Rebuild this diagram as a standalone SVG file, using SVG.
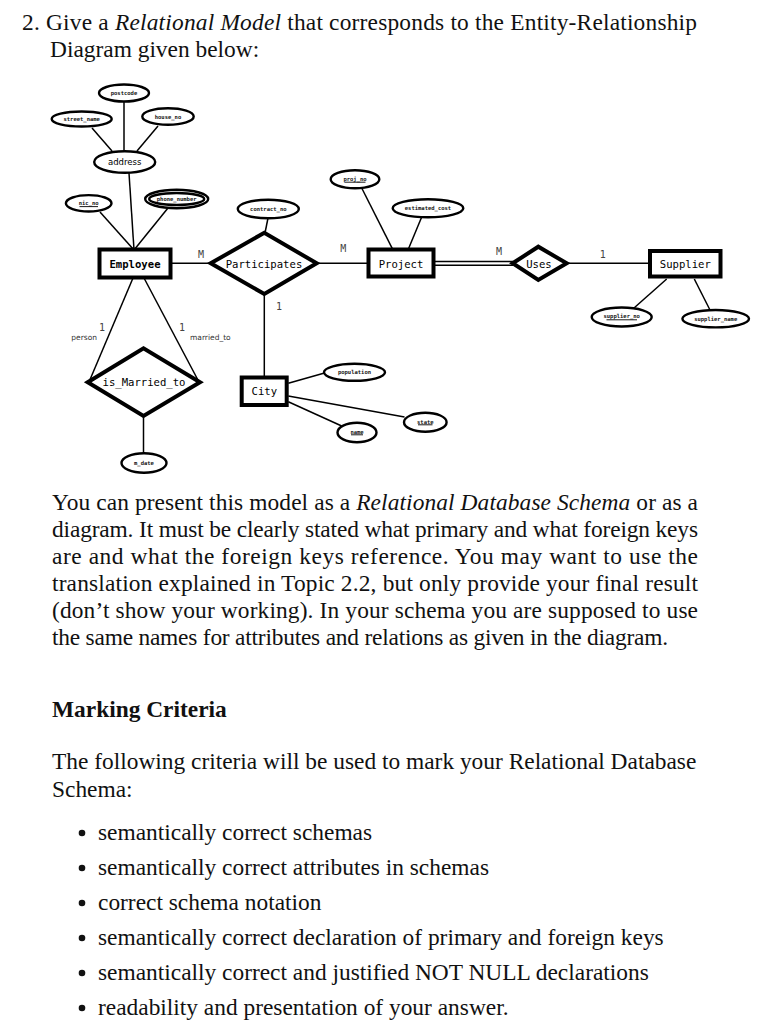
<svg xmlns="http://www.w3.org/2000/svg" width="761" height="1024" viewBox="0 0 761 1024">
<style>
.bg{fill:#fff}
.doc{font-family:"Liberation Serif","Times New Roman",serif;font-size:23.4px;fill:#111}
.it{font-style:italic}
.bd{font-weight:bold}
.attr{fill:#fff;stroke:#000;stroke-width:2.4}
.ent{fill:#fff;stroke:#000;stroke-width:4}
.rel{fill:#fff;stroke:#000;stroke-width:4;stroke-linejoin:miter}
.ln{stroke:#000;stroke-width:1.5;fill:none}
.at{font-family:"DejaVu Sans Mono",monospace;font-size:5.5px;font-weight:bold;fill:#111;text-anchor:middle;dominant-baseline:central}
.et{font-family:"DejaVu Sans Mono",monospace;font-size:10.6px;fill:#000;text-anchor:middle;dominant-baseline:central}
.card{font-family:"DejaVu Sans Mono",monospace;font-size:10px;fill:#444;text-anchor:middle;dominant-baseline:central}
.role{font-family:"DejaVu Sans",sans-serif;font-size:7.5px;fill:#333;dominant-baseline:central}
.ul{stroke:#000;stroke-width:0.9}
</style>
<rect class="bg" x="0" y="0" width="761" height="1024"/>

<!-- header text -->
<text class="doc" x="22" y="30" textLength="675" lengthAdjust="spacing">2. Give a <tspan class="it">Relational Model</tspan> that corresponds to the Entity-Relationship</text>
<text class="doc" x="50" y="57">Diagram given below:</text>

<!-- connectors -->
<g id="connectors">
<line class="ln" x1="124" y1="102" x2="124" y2="151"/>
<line class="ln" x1="92" y1="128" x2="112" y2="151"/>
<line class="ln" x1="158" y1="126" x2="137" y2="151"/>
<line class="ln" x1="129" y1="173" x2="134" y2="250"/>
<line class="ln" x1="100" y1="212" x2="134" y2="250"/>
<line class="ln" x1="168" y1="208" x2="134" y2="250"/>
<line class="ln" x1="170" y1="263.3" x2="211" y2="263.3"/>
<line class="ln" x1="133" y1="278" x2="89" y2="382"/>
<line class="ln" x1="144" y1="278" x2="199" y2="382"/>
<line class="ln" x1="143.5" y1="416" x2="143.5" y2="453"/>
<line class="ln" x1="268" y1="218" x2="265" y2="233"/>
<line class="ln" x1="316.7" y1="263.3" x2="368.3" y2="263.3"/>
<line class="ln" x1="361.7" y1="188" x2="392.7" y2="249.3"/>
<line class="ln" x1="421.7" y1="217" x2="408.3" y2="249.3"/>
<line class="ln" x1="433" y1="261.6" x2="513" y2="261.6" stroke-width="1.2"/>
<line class="ln" x1="433" y1="265.2" x2="513" y2="265.2" stroke-width="1.2"/>
<line class="ln" x1="566.7" y1="263.3" x2="650" y2="263.3"/>
<line class="ln" x1="634" y1="308" x2="666.7" y2="279"/>
<line class="ln" x1="710" y1="310" x2="694.3" y2="279"/>
<line class="ln" x1="264.3" y1="294" x2="264.3" y2="377.3"/>
<line class="ln" x1="288.3" y1="383.3" x2="324.5" y2="373"/>
<line class="ln" x1="288.3" y1="396" x2="404.5" y2="417"/>
<line class="ln" x1="288.3" y1="401.7" x2="341.7" y2="426"/>
<!-- cardinalities and roles -->
<text class="card" x="201" y="254">M</text>
<text class="card" x="343.3" y="248.3">M</text>
<text class="card" x="499" y="251.7">M</text>
<text class="card" x="602.7" y="254">1</text>
<text class="card" x="279" y="306.7">1</text>
<text class="card" x="102" y="327.5">1</text>
<text class="card" x="182" y="327">1</text>
<text class="role" x="97" y="337" text-anchor="end">person</text>
<text class="role" x="190" y="337">married_to</text>
</g>

<!-- attributes -->
<g id="postcode"><ellipse class="attr" cx="124" cy="93" rx="25" ry="8.5"/><text class="at" x="124" y="93">postcode</text></g>
<g id="street_name"><ellipse class="attr" cx="81.7" cy="119" rx="30" ry="7.5"/><text class="at" x="81.7" y="119">street_name</text></g>
<g id="house_no"><ellipse class="attr" cx="168" cy="116.5" rx="25.7" ry="8.3"/><text class="at" x="168" y="116.5">house_no</text></g>
<g id="address"><ellipse class="attr" cx="124.7" cy="162" rx="30.5" ry="10.8" stroke-width="4.5"/><text class="et" x="124.7" y="162" style="font-family:'DejaVu Sans',sans-serif;font-size:8.5px">address</text></g>
<g id="nic_no"><ellipse class="attr" cx="88.7" cy="203.3" rx="22.8" ry="8.2"/><text class="at" x="88.7" y="202.8">nic_no</text><line class="ul" x1="79.5" y1="206.6" x2="98" y2="206.6"/></g>
<g id="phone_number"><ellipse class="attr" cx="176.7" cy="199" rx="31.5" ry="9.2"/><ellipse class="attr" cx="176.7" cy="199" rx="27.5" ry="6" stroke-width="1.8"/><text class="at" x="176.7" y="199">phone_number</text></g>
<g id="contract_no"><ellipse class="attr" cx="268.3" cy="209" rx="30.5" ry="9.3"/><text class="at" x="268.3" y="209">contract_no</text></g>
<g id="proj_no"><ellipse class="attr" cx="355" cy="179.2" rx="24.3" ry="9"/><text class="at" x="355" y="178.5">proj_no</text><line class="ul" x1="344.5" y1="182.2" x2="365.5" y2="182.2"/></g>
<g id="estimated_cost"><ellipse class="attr" cx="428" cy="208.3" rx="35.3" ry="9"/><text class="at" x="428" y="208.3">estimated_cost</text></g>
<g id="supplier_no"><ellipse class="attr" cx="621.7" cy="317" rx="30" ry="9.5"/><text class="at" x="621.7" y="316">supplier_no</text><line class="ul" x1="606.5" y1="319.8" x2="637" y2="319.8"/></g>
<g id="supplier_name"><ellipse class="attr" cx="715.7" cy="318.7" rx="33.3" ry="8.7"/><text class="at" x="715.7" y="318.7">supplier_name</text></g>
<g id="population"><ellipse class="attr" cx="354.5" cy="372.3" rx="30.5" ry="8.5"/><text class="at" x="354.5" y="372.3">population</text></g>
<g id="state"><ellipse class="attr" cx="425.3" cy="422.2" rx="21.3" ry="9.5"/><text class="at" x="425.3" y="421.5">state</text><line class="ul" x1="418" y1="424.8" x2="432.5" y2="424.8"/></g>
<g id="name"><ellipse class="attr" cx="357" cy="432.5" rx="19.5" ry="9.8"/><text class="at" x="357" y="431.5">name</text><line class="ul" x1="351" y1="434.8" x2="363" y2="434.8"/></g>
<g id="m_date"><ellipse class="attr" cx="144" cy="463" rx="22.5" ry="9.8"/><text class="at" x="144" y="463">m_date</text></g>

<!-- entities -->
<g id="Employee"><rect class="ent" x="99.5" y="249.5" width="71" height="28"/><text class="et" x="135" y="264" font-weight="bold">Employee</text></g>
<g id="Project"><rect class="ent" x="368.5" y="249.5" width="65" height="27"/><text class="et" x="401" y="263.5">Project</text></g>
<g id="Supplier"><rect class="ent" x="650" y="251" width="70.5" height="25.5"/><text class="et" x="685.3" y="264">Supplier</text></g>
<g id="City"><rect class="ent" x="241.7" y="377.5" width="45" height="27.5"/><text class="et" x="264.3" y="391.3">City</text></g>

<!-- relationships -->
<g id="Participates"><polygon class="rel" points="210.7,263.3 264.3,232.7 316.7,263.3 264.3,294"/><text class="et" x="264" y="263.5">Participates</text></g>
<g id="Uses"><polygon class="rel" points="512.7,263.3 538.3,246.7 566.7,263.3 538.3,280"/><text class="et" x="539" y="263.5">Uses</text></g>
<g id="is_Married_to"><polygon class="rel" points="87.7,382.3 143.5,348.3 200,382.3 143.5,416"/><text class="et" x="144" y="382">is_Married_to</text></g>

<!-- body text -->
<text class="doc" x="52" y="510" textLength="646" lengthAdjust="spacing">You can present this model as a <tspan class="it">Relational Database Schema</tspan> or as a</text>
<text class="doc" x="52" y="537" textLength="646" lengthAdjust="spacing">diagram. It must be clearly stated what primary and what foreign keys</text>
<text class="doc" x="52" y="564" textLength="646" lengthAdjust="spacing">are and what the foreign keys reference.  You may want to use the</text>
<text class="doc" x="52" y="591" textLength="646" lengthAdjust="spacing">translation explained in Topic 2.2, but only provide your final result</text>
<text class="doc" x="52" y="618" textLength="646" lengthAdjust="spacing">(don’t show your working). In your schema you are supposed to use</text>
<text class="doc" x="52" y="645" textLength="616" lengthAdjust="spacing">the same names for attributes and relations as given in the diagram.</text>

<text class="doc bd" x="52" y="717">Marking Criteria</text>
<text class="doc" x="52" y="769">The following criteria will be used to mark your Relational Database</text>
<text class="doc" x="52" y="797">Schema:</text>

<g class="doc">
<circle cx="82" cy="833" r="3.3" fill="#111"/><text x="98" y="840">semantically correct schemas</text>
<circle cx="82" cy="868" r="3.3" fill="#111"/><text x="98" y="875">semantically correct attributes in schemas</text>
<circle cx="82" cy="903" r="3.3" fill="#111"/><text x="98" y="910">correct schema notation</text>
<circle cx="82" cy="938" r="3.3" fill="#111"/><text x="98" y="945">semantically correct declaration of primary and foreign keys</text>
<circle cx="82" cy="973" r="3.3" fill="#111"/><text x="98" y="980">semantically correct and justified NOT NULL declarations</text>
<circle cx="82" cy="1008" r="3.3" fill="#111"/><text x="98" y="1015">readability and presentation of your answer.</text>
</g>
</svg>
